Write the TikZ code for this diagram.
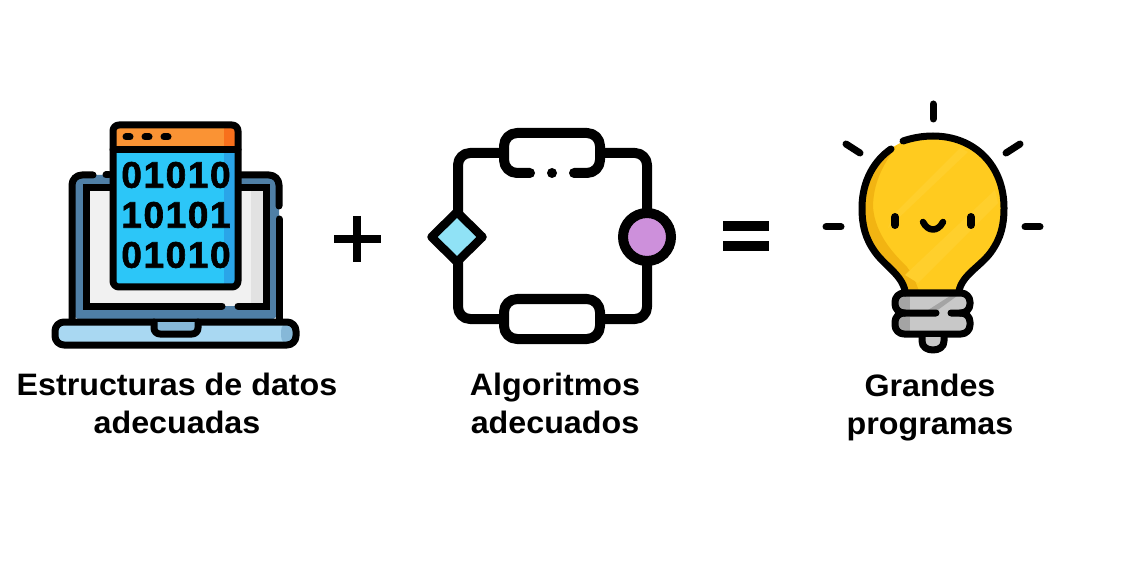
\documentclass[tikz,border=0pt]{standalone}
\usepackage{fontspec}
\setmainfont{Liberation Sans}[BoldFont={Liberation Sans Bold},BoldFeatures={FakeStretch=1.04}]
\newfontfamily\digitfont{Liberation Sans Bold}[FakeBold=1.6]
\definecolor{lapblue}{HTML}{4F7FA6}
\definecolor{baseblue}{HTML}{A9D8F2}
\definecolor{baseshade}{HTML}{86B8D8}
\definecolor{screengrey}{HTML}{F1F1F1}
\definecolor{screenshade}{HTML}{E2E2E2}
\definecolor{winblue}{HTML}{2CC6F8}
\definecolor{winshade}{HTML}{2AA5E8}
\definecolor{winorange}{HTML}{FA9334}
\definecolor{orangeshade}{HTML}{F8701C}
\definecolor{diamondfill}{HTML}{90E2F6}
\definecolor{circlefill}{HTML}{CD90DB}
\definecolor{bulb}{HTML}{FFCB1F}
\definecolor{bulbshade}{HTML}{F2B412}
\definecolor{bulblight}{HTML}{FFCF2C}
\definecolor{metal}{HTML}{C8C8C8}
\definecolor{metalshade}{HTML}{A4A4A4}
\tikzset{
  ink/.style={draw=black,line width=7pt,line cap=round,line join=round},
  flow/.style={draw=black,line width=10pt,line cap=round,line join=round},
  label/.style={font=\bfseries\fontsize{31}{38}\selectfont,align=center,text=black},
  bigop/.style={line width=8.5pt,draw=black,line cap=butt},
  eqbar/.style={line width=9.5pt,draw=black,line cap=butt},
  digits/.style={font=\digitfont\fontsize{37}{37}\selectfont,text=black,inner sep=0pt},
}
\begin{document}
\begin{tikzpicture}[x=1pt,y=-1pt]
\useasboundingbox (0,0) rectangle (1124,577);
% laptop
\fill[lapblue,rounded corners=10pt] (72,175) rectangle (279,320);
\fill[screengrey] (86,188) rectangle (266,306);
\fill[screenshade] (251,188) rectangle (266,306);
\draw[ink,rounded corners=10pt] (93,175) -- (72,175) -- (72,322);
\draw[ink,rounded corners=10pt] (238,175) -- (279,175) -- (279,206);
\draw[ink] (279,219) -- (279,322);
\draw[ink] (106,175) -- (109,175);
\draw[ink,line join=miter] (113,188) -- (86,188) -- (86,306) -- (222,306);
\draw[ink,line join=miter] (238,188) -- (266,188) -- (266,306) -- (238,306);
\path[fill=baseblue,rounded corners=9pt] (55,322) -- (296,322) -- (296,345) -- (55,345) -- cycle;
\path[fill=baseshade,rounded corners=9pt] (281,322) -- (296,322) -- (296,345) -- (281,345) -- cycle;
\draw[ink,rounded corners=9pt] (55,322) -- (296,322) -- (296,345) -- (55,345) -- cycle;
\fill[baseshade] (155,322) rectangle (197,333);
\draw[ink,rounded corners=6pt] (154,322) -- (154,334) -- (198,334) -- (198,322);
% window
\fill[winblue] (113,125) rectangle (238,287);
\fill[winshade] (224,150) rectangle (238,287);
\fill[winorange] (113,125) rectangle (238,150);
\fill[orangeshade] (224,125) rectangle (238,150);
\draw[ink,rounded corners=6pt] (113,125) rectangle (238,287);
\draw[ink] (113,150) -- (238,150);
\draw[line width=7pt,line cap=round] (126,137) -- (130,137);
\draw[line width=7pt,line cap=round] (145,137) -- (149,137);
\draw[line width=7pt,line cap=round] (164,137) -- (168,137);
\node[digits] (row1) at (176,175) {0\kern1.6pt 1\kern1.6pt 0\kern1.6pt 1\kern1.6pt 0};
\node[digits] (row2) at (176,215) {1\kern1.6pt 0\kern1.6pt 1\kern1.6pt 0\kern1.6pt 1};
\node[digits] (row3) at (176,255) {0\kern1.6pt 1\kern1.6pt 0\kern1.6pt 1\kern1.6pt 0};
% plus
\draw[bigop] (357,216) -- (357,262);
\draw[bigop] (334,239) -- (381,239);
% flow diagram
\draw[flow,rounded corners=12pt] (500,153) -- (458,153) -- (458,319) -- (500,319);
\draw[flow,rounded corners=12pt] (604,153) -- (647,153) -- (647,319) -- (604,319);
\draw[flow,rounded corners=13pt] (530,173) -- (504,173) -- (504,133) -- (600,133) -- (600,173) -- (574,173);
\fill (552,173) circle (5pt);
\draw[flow,fill=white,rounded corners=13pt] (504,299) rectangle (600,339);
\draw[line width=8.5pt,fill=diamondfill,line join=round] (457,212) -- (482.5,237) -- (457,262) -- (431.5,237) -- cycle;
\draw[line width=10pt,fill=circlefill] (647,237) circle (24pt);
% equals
\draw[eqbar] (723,226) -- (769,226);
\draw[eqbar] (723,246) -- (769,246);
% bulb
\path[fill=bulb] (905,291) .. controls (902,275) and (885,266) .. (875,252)
  .. controls (865,238) and (862,225) .. (862,208)
  .. controls (862,165) and (892,136) .. (933,136)
  .. controls (974,136) and (1004,165) .. (1004,208)
  .. controls (1004,225) and (1001,238) .. (991,252)
  .. controls (981,266) and (962,275) .. (959,291) -- cycle;
\path[fill=bulbshade] (905,291) .. controls (902,275) and (885,266) .. (875,252)
  .. controls (865,238) and (862,225) .. (862,208)
  .. controls (862,175) and (878,155) .. (897,146)
  .. controls (882,165) and (873,185) .. (873,207)
  .. controls (875,235) and (895,255) .. (907,267)
  .. controls (913,275) and (916,283) .. (919,291) -- cycle;
\fill[bulblight] (893,215) -- (960,148) -- (968,152) -- (888,228) -- cycle;
\fill[bulblight] (905,275) -- (995,190) -- (998,203) -- (918,283) -- cycle;
\draw[ink] (905,291) .. controls (902,275) and (885,266) .. (875,252)
  .. controls (865,238) and (862,225) .. (862,208)
  .. controls (862,180) and (875,160) .. (891,149);
\draw[ink] (903,141) .. controls (912,138) and (922,136) .. (933,136)
  .. controls (974,136) and (1004,165) .. (1004,208)
  .. controls (1004,225) and (1001,238) .. (991,252)
  .. controls (981,266) and (962,275) .. (959,291);
% bulb face
\draw[ink,line width=8pt] (895,217) -- (895,225);
\draw[ink,line width=8pt] (971,217) -- (971,225);
\draw[ink,line width=6.5pt] (923,222) .. controls (928,232) and (938,232) .. (943,222);
% bulb socket
\fill[metal,rounded corners=8pt] (892,293) rectangle (971,314);
\fill[metal,rounded corners=8pt] (892,314) rectangle (971,335);
\fill[metalshade] (898,296) rectangle (910,312);
\fill[metalshade] (898,317) rectangle (910,332);
\fill[metalshade] (925,312) -- (950,296) -- (957,296) -- (935,312) -- cycle;
\draw[ink,rounded corners=9pt] (905,293) -- (970,293) -- (970,313) -- (951,313);
\draw[ink,rounded corners=9pt] (905,293) -- (895,293) -- (895,313) -- (936,313);
\draw[ink,rounded corners=9pt] (905,313) -- (895,313) -- (895,334) -- (970,334) -- (970,313) -- (960,313);
\draw[ink,fill=metal] (922,337) -- (922,341) .. controls (922,347) and (927,350) .. (933,350) .. controls (939,350) and (944,347) .. (944,341) -- (944,337);
% rays
\draw[ink] (933,104) -- (933,119);
\draw[ink] (846,144) -- (860,153);
\draw[ink] (1020,144) -- (1006,153);
\draw[ink] (826,227) -- (841,227);
\draw[ink] (1025,227) -- (1040,227);
% labels
\node[label] (lab1) at (177,403.5) {Estructuras de datos\\adecuadas};
\node[label] (lab2) at (555,403.5) {Algoritmos\\adecuados};
\node[label] (lab3) at (930,408) {Grandes\\programas};
\end{tikzpicture}
\end{document}
